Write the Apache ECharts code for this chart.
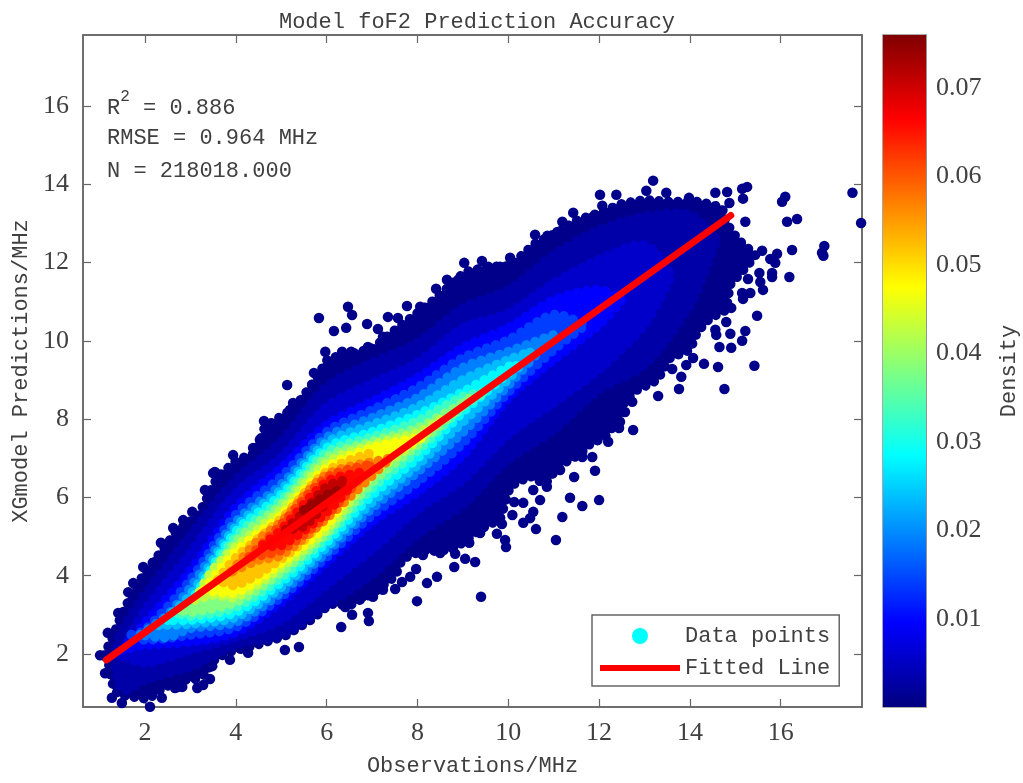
<!DOCTYPE html>
<html>
<head>
<meta charset="utf-8">
<title>Model foF2 Prediction Accuracy</title>
<script src="https://cdn.jsdelivr.net/npm/echarts@6/dist/echarts.min.js"></script>
<style>
  html, body { margin: 0; padding: 0; background: #fff; }
  #chart { width: 1023px; height: 783px; }
</style>
</head>
<body>
<div id="chart"></div>
<script>
// axis ticks
const xTicks = [2, 4, 6, 8, 10, 12, 14, 16];
const yTicks = [2, 4, 6, 8, 10, 12, 14, 16];
const densityTicks = [0.01, 0.02, 0.03, 0.04, 0.05, 0.06, 0.07];
const xRange = [0.634, 17.79];
const yRange = [0.646, 17.81];
const densityRange = [0.00005, 0.076];

// jet colormap
const jetColors = ['#000080', '#0000ff', '#0080ff', '#00ffff', '#80ff80', '#ffff00', '#ff8000', '#ff0000', '#800000'];

// fitted line
const fitX = [1.15, 14.9];
const fitY = [1.85, 13.2];

// outline of the whole cloud
const cloudDensity = 0.0008;
const cloudOutline = [
  [1.10,1.97],[1.30,2.46],[1.47,2.95],[1.69,3.48],[2.02,4.12],[2.44,4.73],[2.68,5.12],[3.17,5.53],[3.59,6.50],[4.00,6.93],
  [4.44,7.14],[4.64,7.80],[5.30,8.29],[5.77,9.03],[6.03,9.54],[7.00,9.79],[7.46,10.23],[8.06,10.76],[8.43,11.10],[9.05,11.76],
  [9.60,11.89],[10.04,11.91],[10.59,12.48],[11.19,12.83],[11.47,13.06],[12.07,13.29],[12.51,13.50],[13.01,13.60],[13.50,13.55],[14.22,13.55],
  [14.71,13.40],[14.78,13.04],[15.06,12.58],[15.44,12.19],[15.28,11.94],[14.88,11.43],[14.80,10.79],[14.44,10.58],[14.16,10.23],[14.00,9.77],
  [13.56,9.56],[13.28,9.00],[12.84,8.75],[12.57,8.49],[12.42,7.98],[12.11,7.52],[11.82,7.39],[11.58,7.11],[11.10,6.80],[10.81,6.34],
  [10.48,6.55],[10.04,6.29],[9.82,5.45],[9.38,5.19],[9.11,4.94],[8.78,4.68],[8.45,4.63],[8.08,4.63],[7.66,4.43],[7.51,3.99],
  [7.02,3.56],[6.52,3.25],[6.07,3.28],[5.68,2.89],[5.08,2.46],[4.36,2.20],[3.83,2.05],[3.48,1.82],[3.34,1.49],[3.10,1.36],
  [2.73,1.33],[2.33,1.08],[2.07,0.85],[1.41,0.96],[1.30,1.18],[1.23,1.54],[1.19,1.85]
];

// density bands, from the low values to the peak: x, upper edge, lower edge
const bandDensity = [0.003, 0.0055, 0.0095, 0.014, 0.019, 0.0235, 0.028, 0.033, 0.038, 0.0425, 0.047, 0.052, 0.057, 0.0615, 0.066, 0.071, 0.074];
const bandX = [
  [1.3,1.5,2,3,4,5,6,7,8,9,10,11,12,13,14,14.6],
  [1.45,2,3,4,5,6,7,8,9,10,11,12,13,13.6],
  [1.5,2,3,4,5,6,7,8,9,10,11,12,12.5],
  [1.7,2,3,4,5,6,7,8,9,10,11,11.7],
  [1.9,2.5,3,4,5,6,7,8,9,10,11],
  [2.3,3,4,5,6,7,8,9,10,10.5],
  [2.5,3,4,5,6,7,8,9,10,10.2],
  [2.7,3,4,5,6,7,8,9,9.5],
  [2.8,3,4,5,6,7,8,9,9.2],
  [3.1,3.5,4,5,6,7,8,8.5],
  [3.3,4,5,6,7,8.1],
  [3.6,4,5,6,7,7.7],
  [3.9,4.5,5,6,7.4],
  [4.3,5,6,7.0],
  [4.6,5,6,6.8],
  [5.1,5.5,6,6.4],
  [5.5,6,6.3]
];
const bandTop = [
  [1.97,2.61,3.51,5.04,6.45,7.42,8.82,9.44,9.95,10.84,11.30,12.19,12.83,13.17,13.22,12.60],
  [1.97,3.12,4.58,6.11,7.03,8.31,8.92,9.44,10.33,10.71,11.48,12.07,12.45,11.68],
  [2.10,2.79,4.12,5.73,6.75,7.85,8.44,9.05,9.82,10.33,11.04,11.30,11.04],
  [2.49,2.61,3.89,5.55,6.52,7.67,8.23,8.80,9.56,10.02,10.66,10.41],
  [2.49,3.00,3.69,5.37,6.32,7.52,8.03,8.54,9.31,9.72,10.15],
  [2.74,3.51,5.24,6.19,7.39,7.85,8.31,9.00,9.51,9.72],
  [2.87,3.33,5.12,6.06,7.26,7.67,8.11,8.69,9.33,9.38],
  [3.05,3.23,4.99,5.93,7.14,7.54,7.95,8.57,8.69],
  [3.12,3.12,4.86,5.81,7.01,7.42,7.77,8.41,8.57],
  [3.38,4.15,4.73,5.68,6.88,7.34,7.65,7.98],
  [3.64,4.61,5.55,6.75,7.26,7.54],
  [3.89,4.45,5.45,6.65,7.14,7.30],
  [4.10,4.91,5.37,6.57,7.00],
  [4.48,5.30,6.50,6.85],
  [4.78,5.17,6.39,6.65],
  [5.17,5.63,6.27,6.45],
  [5.68,6.06,6.19]
];
const bandBottom = [
  [1.97,1.08,1.34,1.67,2.23,2.49,3.25,4.02,5.04,5.81,6.96,7.72,8.75,9.38,10.90,12.60],
  [1.97,1.77,2.10,2.43,2.87,3.76,4.66,5.68,6.45,7.60,8.41,9.26,10.41,11.68],
  [2.10,2.23,2.31,2.56,3.33,4.35,5.37,6.14,7.08,8.54,9.51,10.41,11.04],
  [2.49,2.36,2.49,2.69,3.46,4.48,5.55,6.39,7.39,8.69,9.77,10.41],
  [2.49,2.43,2.66,2.82,3.58,4.61,5.73,6.65,7.67,8.87,10.15],
  [2.74,2.77,2.95,3.71,4.73,5.88,6.83,7.93,9.03,9.72],
  [2.87,2.87,3.07,3.84,4.86,6.06,7.01,8.18,9.18,9.38],
  [3.05,2.97,3.20,3.97,4.99,6.24,7.19,8.31,8.69],
  [3.12,3.07,3.33,4.10,5.09,6.39,7.34,8.36,8.57],
  [3.38,3.51,3.46,4.22,5.19,6.57,7.44,7.98],
  [3.64,3.58,4.33,5.30,6.75,7.54],
  [3.89,3.76,4.43,5.37,7.30],
  [4.10,4.40,4.53,5.47,7.00],
  [4.48,4.66,5.55,6.85],
  [4.78,4.78,5.63,6.65],
  [5.17,5.27,5.88,6.45],
  [5.68,5.99,6.19]
];

// single points on the rim of the cloud and clear of it
const outlierX = [
  1.01,1.63,1.96,2.22,2.35,2.62,3.32,3.54,3.59,3.81,3.94,4.62,5.13,5.26,5.72,5.83,5.97,6.16,6.34,6.43,6.47,6.54,6.56,6.89,7.13,7.35,7.77,8.41,8.65,8.79,8.90,9.03,9.14,9.42,10.04,10.59,10.86,11.19,11.43,12.02,12.07,12.38,13.04,13.19,13.48,13.98,14.56,14.82,14.87,15.15,15.17,15.26,15.22,16.03,16.10,16.14,16.36,17.58,17.77,16.96,16.91,16.94,16.25,15.92,15.59,15.77,15.88,15.81,15.81,16.19,15.53,15.55,15.28,15.61,15.33,15.15,15.17,15.48,15.22,15.15,14.89,14.91,14.65,14.56,14.58,14.80,14.91,14.31,14.07,14.62,15.42,14.76,13.92,13.81,13.76,13.61,13.30,12.73,12.57,12.46,12.75,
  11.91,11.45,12.00,11.36,11.63,11.19,10.61,11.05,9.95,9.93,10.33,10.55,10.70,10.55,10.13,10.33,10.09,9.40,9.27,9.05,8.81,8.43,8.21,7.99,7.97,7.51,6.93,6.91,6.56,6.32,6.41,5.39,5.08,4.27,3.87,3.43,3.15,2.73,2.37,2.11,
  4.53,4.38,4.82,5.19,5.68,6.03,6.91,7.24,7.57,8.06,8.54,9.56,9.82,10.59,11.08,11.65,11.87,
  9.38,9.75,9.14,8.83,8.50,8.12,7.84,7.66,7.24,7.02,6.78,9.86,10.48,10.85,11.14,11.63,11.85,12.20,12.44,
  3.48,3.28,2.66,2.82,1.27,1.49,1.12,1.18,1.41,1.74,2.26,3.04,2.84,3.50
];
const outlierY = [
  1.97,3.58,4.22,4.35,4.84,5.22,6.19,6.65,6.39,6.60,7.08,7.95,8.87,8.41,9.18,10.58,9.72,10.25,9.72,10.33,10.87,9.72,10.66,10.43,10.30,10.61,10.89,11.33,11.56,11.43,11.56,11.99,11.63,12.04,12.12,12.71,12.68,13.04,13.27,13.73,13.45,13.73,13.83,14.09,13.78,13.65,13.78,13.80,13.52,13.88,13.63,13.93,13.04,13.55,13.68,13.04,13.11,13.78,13.01,12.42,12.25,12.17,12.32,12.22,12.30,12.09,11.99,11.73,11.63,11.63,11.73,11.50,11.58,11.30,11.22,11.22,11.07,10.64,10.25,10.00,10.18,9.82,9.84,10.28,10.15,10.48,10.84,9.41,9.56,9.33,9.36,8.77,9.38,9.08,8.77,9.28,8.59,8.44,8.18,7.93,7.72,
  6.68,6.52,5.93,5.99,5.78,5.50,5.19,4.91,4.73,4.91,5.35,5.63,5.93,6.19,5.88,5.86,5.55,3.46,4.35,4.43,4.22,3.97,3.81,3.35,4.17,3.66,2.84,3.05,3.00,2.69,3.20,2.18,2.10,2.03,1.85,1.36,1.13,1.16,0.88,0.65,
  7.47,7.26,7.65,8.23,8.87,9.38,9.84,10.10,10.58,10.87,11.10,11.89,11.89,12.37,12.78,12.96,13.17,
  5.09,5.07,4.84,4.56,4.58,4.53,3.97,3.84,3.64,3.46,3.46,5.32,5.47,6.27,6.70,7.03,7.03,7.42,7.77,
  1.69,1.21,1.13,1.16,0.88,0.75,1.51,2.54,3.05,3.81,4.33,5.63,5.42,6.62
];

const fontName = 'Liberation Mono';
const numberFont = 'Liberation Serif';
const textColor = '#404040';
const axisColor = '#666666';

const chart = echarts.init(document.getElementById('chart'));

// cloud first, then the bands on top of it
const shapes = [cloudOutline].concat(bandX.map(function (xs, i) {
  const upper = xs.map(function (x, k) { return [x, bandTop[i][k]]; });
  const lower = xs.map(function (x, k) { return [x, bandBottom[i][k]]; }).reverse();
  return upper.concat(lower);
}));
const shapeDensity = [cloudDensity].concat(bandDensity);

function renderBand(params, api) {
  const idx = api.value(3);
  const points = shapes[idx].map(function (p) { return api.coord(p); });
  const color = api.visual('color');
  const area = params.coordSys;
  return {
    type: 'polygon',
    shape: { points: points, smooth: idx === 0 ? 0 : 0.3 },
    style: { fill: color, stroke: color, lineWidth: 10, lineDash: [0.01, 9.5], lineCap: 'round' },
    clipPath: { type: 'rect', shape: { x: area.x, y: area.y, width: area.width, height: area.height } }
  };
}

function renderColorbar(params, api) {
  const top = api.coord([0, densityRange[1]]);
  const bottom = api.coord([1, densityRange[0]]);
  return {
    type: 'rect',
    shape: { x: top[0], y: top[1], width: bottom[0] - top[0], height: bottom[1] - top[1] },
    style: {
      fill: new echarts.graphic.LinearGradient(0, 1, 0, 0, jetColors.map(function (c, i) {
        return { offset: i / (jetColors.length - 1), color: c };
      }))
    }
  };
}

function tickAxis(extra) {
  return Object.assign({
    type: 'value',
    axisLine: { show: true, onZero: false, lineStyle: { color: axisColor, width: 1.5 } },
    axisTick: { show: true, inside: true, length: 8, lineStyle: { color: axisColor, width: 1.2 } },
    splitLine: { show: false }
  }, extra);
}

const labelStyle = { fontFamily: fontName, fontSize: 22, color: textColor };
const numberStyle = { fontFamily: numberFont, fontSize: 26, color: textColor };

chart.setOption({
  backgroundColor: '#fff',
  animation: false,
  title: {
    text: 'Model foF2 Prediction Accuracy',
    left: 472,
    top: 6,
    textAlign: 'center',
    textStyle: { fontFamily: fontName, fontSize: 22, fontWeight: 'normal', color: textColor }
  },
  grid: [
    { left: 83, top: 35, width: 779, height: 672, show: true, borderColor: axisColor, borderWidth: 1.5, outerBoundsMode: 'none' },
    { left: 883, top: 35, width: 43, height: 672, show: true, borderColor: '#8c8c8c', borderWidth: 1.5, outerBoundsMode: 'none' }
  ],
  xAxis: [
    tickAxis({
      gridIndex: 0, position: 'bottom', min: xRange[0], max: xRange[1],
      name: 'Observations/MHz', nameLocation: 'middle', nameGap: 48, nameTextStyle: labelStyle,
      axisTick: { show: true, inside: true, length: 8, customValues: xTicks, lineStyle: { color: axisColor, width: 1.2 } },
      axisLabel: Object.assign({ margin: 13, customValues: xTicks }, numberStyle)
    }),
    tickAxis({
      gridIndex: 0, position: 'top', min: xRange[0], max: xRange[1],
      axisTick: { show: true, inside: true, length: 8, customValues: xTicks, lineStyle: { color: axisColor, width: 1.2 } },
      axisLabel: { show: false, customValues: xTicks }
    }),
    { type: 'value', gridIndex: 1, min: 0, max: 1, show: false }
  ],
  yAxis: [
    tickAxis({
      gridIndex: 0, position: 'left', min: yRange[0], max: yRange[1],
      name: 'XGmodel Predictions/MHz', nameLocation: 'middle', nameGap: 48, nameTextStyle: labelStyle,
      axisTick: { show: true, inside: true, length: 8, customValues: yTicks, lineStyle: { color: axisColor, width: 1.2 } },
      axisLabel: Object.assign({ margin: 14, customValues: yTicks }, numberStyle)
    }),
    tickAxis({
      gridIndex: 0, position: 'right', min: yRange[0], max: yRange[1],
      axisTick: { show: true, inside: true, length: 8, customValues: yTicks, lineStyle: { color: axisColor, width: 1.2 } },
      axisLabel: { show: false, customValues: yTicks }
    }),
    tickAxis({
      gridIndex: 1, position: 'right', min: densityRange[0], max: densityRange[1],
      name: 'Density', nameLocation: 'middle', nameGap: 72, nameTextStyle: labelStyle,
      axisLine: { show: true, onZero: false, lineStyle: { color: '#8c8c8c', width: 1.5 } },
      axisTick: { show: true, inside: true, length: 7, customValues: densityTicks, lineStyle: { color: '#5a3030', width: 1.2 } },
      axisLabel: Object.assign({ margin: 10, customValues: densityTicks, formatter: function (v) { return v.toFixed(2); } }, numberStyle)
    })
  ],
  visualMap: {
    show: false,
    type: 'continuous',
    min: 0,
    max: densityRange[1],
    dimension: 2,
    seriesIndex: [0, 1],
    inRange: { color: jetColors }
  },
  legend: {
    left: 592,
    top: 615,
    orient: 'vertical',
    padding: [10, 9, 7, 8],
    itemWidth: 80,
    itemHeight: 16,
    itemGap: 10,
    borderColor: axisColor,
    borderWidth: 1.5,
    backgroundColor: '#fff',
    textStyle: labelStyle,
    selectedMode: false,
    z: 10,
    data: [
      { name: 'Data points', icon: 'circle', itemStyle: { color: '#00ffff', opacity: 1 } },
      { name: 'Fitted Line', icon: 'path://M0 0H80V6H0Z', itemStyle: { color: '#ff0000' } }
    ]
  },
  graphic: [
    {
      type: 'text', left: 107, top: 89, z: 20,
      style: {
        text: '{t|R}{s|2}{t| = 0.886}',
        rich: {
          t: { fontFamily: fontName, fontSize: 22, fill: textColor, verticalAlign: 'bottom', lineHeight: 30 },
          s: { fontFamily: fontName, fontSize: 16, fill: textColor, verticalAlign: 'top', lineHeight: 30 }
        }
      }
    },
    {
      type: 'text', left: 107, top: 127, z: 20,
      style: { text: 'RMSE = 0.964 MHz', fontFamily: fontName, fontSize: 22, fill: textColor }
    },
    {
      type: 'text', left: 107, top: 160, z: 20,
      style: { text: 'N = 218018.000', fontFamily: fontName, fontSize: 22, fill: textColor }
    }
  ],
  series: [
    {
      name: 'Density bands',
      type: 'custom',
      xAxisIndex: 0,
      yAxisIndex: 0,
      renderItem: renderBand,
      encode: { x: 0, y: 1 },
      data: shapes.map(function (s, i) { return [s[0][0], s[0][1], shapeDensity[i], i]; }),
      z: 2
    },
    {
      name: 'Data points',
      type: 'scatter',
      xAxisIndex: 0,
      yAxisIndex: 0,
      symbol: 'circle',
      symbolSize: 10.5,
      itemStyle: { opacity: 1 },
      data: outlierX.map(function (x, i) { return [x, outlierY[i], cloudDensity]; }),
      z: 3
    },
    {
      name: 'Fitted Line',
      type: 'line',
      xAxisIndex: 0,
      yAxisIndex: 0,
      showSymbol: false,
      symbol: 'none',
      lineStyle: { color: '#ff0000', width: 7, cap: 'round' },
      itemStyle: { color: '#ff0000' },
      data: fitX.map(function (x, i) { return [x, fitY[i]]; }),
      z: 4
    },
    {
      name: 'Colorbar',
      type: 'custom',
      xAxisIndex: 2,
      yAxisIndex: 2,
      renderItem: renderColorbar,
      data: [[0, densityRange[0]]],
      z: 2
    }
  ]
});
</script>
</body>
</html>
